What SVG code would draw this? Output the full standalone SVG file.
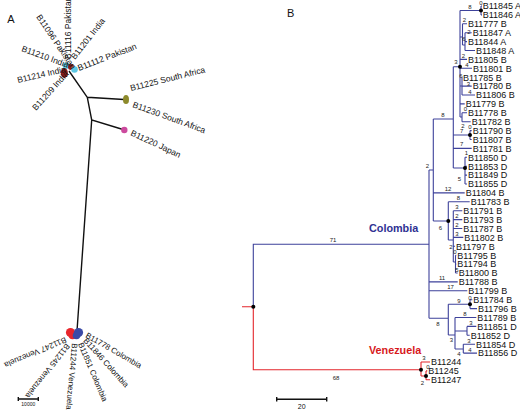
<svg xmlns="http://www.w3.org/2000/svg" width="520" height="410" viewBox="0 0 520 410">
<style>
text{font-family:"Liberation Sans",Arial,sans-serif}
.b{stroke:#3e429b;stroke-width:1.1;fill:none}
.r{stroke:#e3262c;stroke-width:1.1;fill:none}
.k{stroke:#111;stroke-width:1.4;fill:none}
.lf{font-size:9px;fill:#111}
.bl{font-size:6px;fill:#222;text-anchor:middle}
.la{font-size:8.5px;fill:#111}
.lb{font-size:8px;fill:#111}
.pl{font-size:11px;fill:#111}
</style>
<rect width="520" height="410" fill="#fff"/>
<text class="pl" x="7.3" y="23.3">A</text>
<text class="pl" x="287" y="16.5">B</text>
<g id="panelA-connectors">
<path class="k" d="M69,71 L87.3,97.3 L124,99.5 M87.3,97.3 L91.7,120 L123,129.5 M91.7,120 L77,331"/>
<path class="k" stroke-width="1" d="M18.3,399 H38.3 M18.3,397 V401 M38.3,397 V401"/>
<text x="28.3" y="406" font-size="5" text-anchor="middle" fill="#111">10000</text>
</g>
<g id="A-cluster-asia">
<circle cx="66" cy="65.8" r="3.3" fill="#5ec8e3"/>
<circle cx="71" cy="67" r="3" fill="#8b1a1a"/>
<circle cx="74.5" cy="69.5" r="3.3" fill="#5ec8e3"/>
<ellipse cx="64.3" cy="73" rx="3.6" ry="5" fill="#8b1a1a"/>
</g>
<g id="A-southafrica"><ellipse cx="126" cy="99.5" rx="3" ry="4.6" fill="#8d8a2b"/></g>
<g id="A-japan"><circle cx="124.3" cy="130" r="3.2" fill="#cc4a9e"/></g>
<g id="A-americas">
<circle cx="70.5" cy="332.5" r="4.6" fill="#e8262b"/>
<circle cx="72.5" cy="335.5" r="3.8" fill="#e8262b"/>
<circle cx="78.5" cy="332.5" r="4.6" fill="#3b4aa6"/>
<circle cx="76.5" cy="335.5" r="3.8" fill="#3b4aa6"/>
</g>
<g id="A-labels">
<text class="la" font-size="7" transform="translate(70.5,59) rotate(-90)">B11116 Pakistan</text>
<text class="la" transform="translate(75,60) rotate(-52)">B11201 India</text>
<text class="la" transform="translate(79,71) rotate(-21)">B11112 Pakistan</text>
<text class="la" transform="translate(36,17) rotate(56)">B11096 Pakistan</text>
<text class="la" transform="translate(21,51) rotate(20)">B11210 India</text>
<text class="la" transform="translate(18,83) rotate(-13)">B11214 India</text>
<text class="la" transform="translate(36,111) rotate(-48)">B11209 India</text>
<text class="la" transform="translate(131,91) rotate(-14)">B11225 South Africa</text>
<text class="la" transform="translate(132,107) rotate(20)">B11230 South Africa</text>
<text class="la" transform="translate(130,135) rotate(25)">B11220 Japan</text>
<text class="lb" transform="translate(85,337) rotate(30)">B11778 Colombia</text>
<text class="lb" transform="translate(83,341) rotate(48)">B11846 Colombia</text>
<text class="lb" transform="translate(78,344) rotate(67)">B11851 Colombia</text>
<text class="lb" transform="translate(72,343) rotate(95)">B11244 Venezuela</text>
<text class="lb" transform="translate(66,343) rotate(128)">B11245 Venezuela</text>
<text class="lb" transform="translate(65,337) rotate(157)">B11247 Venezuela</text>
</g>
<g id="B-connectors">
<path class="r" d="M242,306.7 H253.3 M253.3,306.7 V369.7 H421 M421,362 V376 M421,362 H430 M421,376 H426 M426,370.9 V379.8 M426,370.9 H427.3 M426,379.8 H430"/>
<path class="b" d="M253.3,306.7 V244.3 H429 M429,170 V318.3 M429,170 H433.3 M429,281.9 H457.7 M429,290.8 H467.3 M429,318.3 H448.3
M433.3,119 V221 M433.3,119 H453.3 M433.3,192.9 H464.7 M433.3,221 H448.3
M453.3,66.7 V168 M453.3,66.7 H460 M453.3,135 H470 M470,130.6 V139.5 M470,130.6 H471.7 M470,139.5 H471.7 M453.3,148.4 H471.7 M453.3,168 H465 M465,157.3 V184 M465,157.3 H467 M465,166.2 H467 M465,175.1 H467 M465,184 H467
M460,10.5 V117 M460,10.5 H481 M481,6 V14.9 M481,6 H482 M481,14.9 H482
M460,37 H462.5 M462.5,23.8 V45 M462.5,23.8 H467 M462.5,45 H465 M465,32.7 V50.5 M465,32.7 H471.7 M465,41.6 H467 M465,50.5 H475
M460,59.4 H467 M460,68.3 H472 M460,86 H462 M462,77.2 V95 M462,86.1 H471.7 M462,95 H475
M460,103.9 H464.7 M460,117 H462 M462,112.8 V121.7 M462,112.8 H467 M462,121.7 H470.7
M448.3,201.8 V240 M448.3,201.8 H469.7 M448.3,240 H453.3
M453.3,210.7 V262 M453.3,210.7 H462.3 M453.3,219.6 H462.3 M453.3,228.5 H462.3 M453.3,237.4 H463.3 M453.3,246.3 H455 M453.3,262 H455.5
M455.5,255.2 V273 M455.5,255.2 H456.3 M455.5,264.1 H456.3 M455.5,273 H457.7
M448.3,304.2 V335 M448.3,304.2 H470 M470,299.7 V308.6 M470,299.7 H472.3 M470,308.6 H477
M448.3,335 H455 M455,317.5 V349 M455,317.5 H476.3 M455,331 H467 M467,326.4 V335.3 M467,326.4 H476.3 M467,335.3 H469.7 M455,349 H463.3 M463.3,344.2 V353.1 M463.3,344.2 H475 M463.3,353.1 H477"/>
<g fill="#000">
<circle cx="253.3" cy="306.7" r="2"/><circle cx="448.3" cy="221" r="2"/><circle cx="460" cy="66.7" r="2"/><circle cx="481" cy="10.5" r="2"/><circle cx="470" cy="135" r="2"/><circle cx="465" cy="168" r="2"/><circle cx="470" cy="304.2" r="2"/><circle cx="421" cy="369.7" r="2"/><circle cx="426" cy="376" r="2"/>
</g>
<g class="bl">
<text x="333" y="241.5">71</text><text x="336" y="380">68</text>
<text x="427.5" y="167.5">2</text><text x="442" y="279.5">11</text><text x="450.5" y="288.5">17</text><text x="438" y="326">8</text>
<text x="443" y="116.5">8</text><text x="448" y="190.5">12</text><text x="440.5" y="229.5">6</text>
<text x="456" y="64">3</text><text x="461.7" y="133">7</text><text x="461.7" y="146">7</text><text x="466.5" y="155">1</text><text x="459.5" y="181">5</text>
<text x="470" y="8.5">8</text><text x="481" y="4.5">0</text><text x="464.5" y="22">2</text><text x="469" y="33.5">2</text><text x="464" y="41">6</text><text x="463.5" y="57.5">2</text><text x="467" y="66.5">4</text><text x="461" y="78">6</text><text x="468.5" y="86">3</text><text x="470" y="93.5">4</text><text x="465.5" y="110.5">0</text><text x="463" y="128">2</text><text x="470" y="129">0</text>
<text x="458.3" y="199.5">8</text><text x="457" y="209">3</text><text x="457" y="218">2</text><text x="457" y="227">2</text><text x="457" y="236">3</text><text x="451" y="249">2</text><text x="455" y="254">0</text><text x="457" y="271.5">5</text>
<text x="459" y="302.5">9</text><text x="470" y="300">0</text><text x="451.5" y="342">3</text><text x="465" y="315.5">8</text><text x="471" y="324.5">3</text><text x="469" y="342.5">3</text><text x="459" y="356">4</text><text x="470" y="351.5">4</text>
<text x="424" y="359.5">3</text><text x="428" y="368.5">0</text><text x="422.5" y="384.5">2</text>
</g>
<path class="k" stroke-width="1" d="M276.7,399.3 H326.7 M276.7,397 V401.6 M326.7,397 V401.6"/>
<text x="301.7" y="408.5" font-size="7" text-anchor="middle" fill="#111">20</text>
</g>
<text x="369" y="232" font-size="10.8" font-weight="bold" fill="#2e3192">Colombia</text>
<text x="369" y="354" font-size="10.8" font-weight="bold" fill="#d7191c">Venezuela</text>
<g id="B-leaves" class="lf">
<g id="n0"><text x="482.7" y="9.3">B11845 A</text></g>
<g id="n1"><text x="482.7" y="18.2">B11846 A</text></g>
<g id="n2"><text x="468" y="27.1">B11777 B</text></g>
<g id="n3"><text x="472.7" y="36">B11847 A</text></g>
<g id="n4"><text x="468" y="44.9">B11844 A</text></g>
<g id="n5"><text x="476" y="53.8">B11848 A</text></g>
<g id="n6"><text x="468" y="62.7">B11805 B</text></g>
<g id="n7"><text x="473" y="71.6">B11801 B</text></g>
<g id="n8"><text x="463" y="80.5">B11785 B</text></g>
<g id="n9"><text x="472.7" y="89.4">B11780 B</text></g>
<g id="n10"><text x="476" y="98.3">B11806 B</text></g>
<g id="n11"><text x="465.7" y="107.2">B11779 B</text></g>
<g id="n12"><text x="468" y="116.1">B11778 B</text></g>
<g id="n13"><text x="471.7" y="125">B11782 B</text></g>
<g id="n14"><text x="472.7" y="133.9">B11790 B</text></g>
<g id="n15"><text x="472.7" y="142.8">B11807 B</text></g>
<g id="n16"><text x="472.7" y="151.7">B11781 B</text></g>
<g id="n17"><text x="468" y="160.6">B11850 D</text></g>
<g id="n18"><text x="468" y="169.5">B11853 D</text></g>
<g id="n19"><text x="468" y="178.4">B11849 D</text></g>
<g id="n20"><text x="468" y="187.3">B11855 D</text></g>
<g id="n21"><text x="465.7" y="196.2">B11804 B</text></g>
<g id="n22"><text x="470.7" y="205.1">B11783 B</text></g>
<g id="n23"><text x="463.3" y="214">B11791 B</text></g>
<g id="n24"><text x="463.3" y="222.9">B11793 B</text></g>
<g id="n25"><text x="463.3" y="231.8">B11787 B</text></g>
<g id="n26"><text x="464.3" y="240.7">B11802 B</text></g>
<g id="n27"><text x="456" y="249.6">B11797 B</text></g>
<g id="n28"><text x="457.3" y="258.5">B11795 B</text></g>
<g id="n29"><text x="457.3" y="267.4">B11794 B</text></g>
<g id="n30"><text x="458.7" y="276.3">B11800 B</text></g>
<g id="n31"><text x="458.7" y="285.2">B11788 B</text></g>
<g id="n32"><text x="468.3" y="294.1">B11799 B</text></g>
<g id="n33"><text x="473.3" y="303">B11784 B</text></g>
<g id="n34"><text x="478" y="311.9">B11796 B</text></g>
<g id="n35"><text x="477.3" y="320.8">B11789 B</text></g>
<g id="n36"><text x="477.3" y="329.7">B11851 D</text></g>
<g id="n37"><text x="470.7" y="338.6">B11852 D</text></g>
<g id="n38"><text x="476" y="347.5">B11854 D</text></g>
<g id="n39"><text x="478" y="356.4">B11856 D</text></g>
<g id="n40"><text x="431" y="365.3">B11244</text></g>
<g id="n41"><text x="428.3" y="374.2">B11245</text></g>
<g id="n42"><text x="431" y="383.1">B11247</text></g>
</g>
</svg>
